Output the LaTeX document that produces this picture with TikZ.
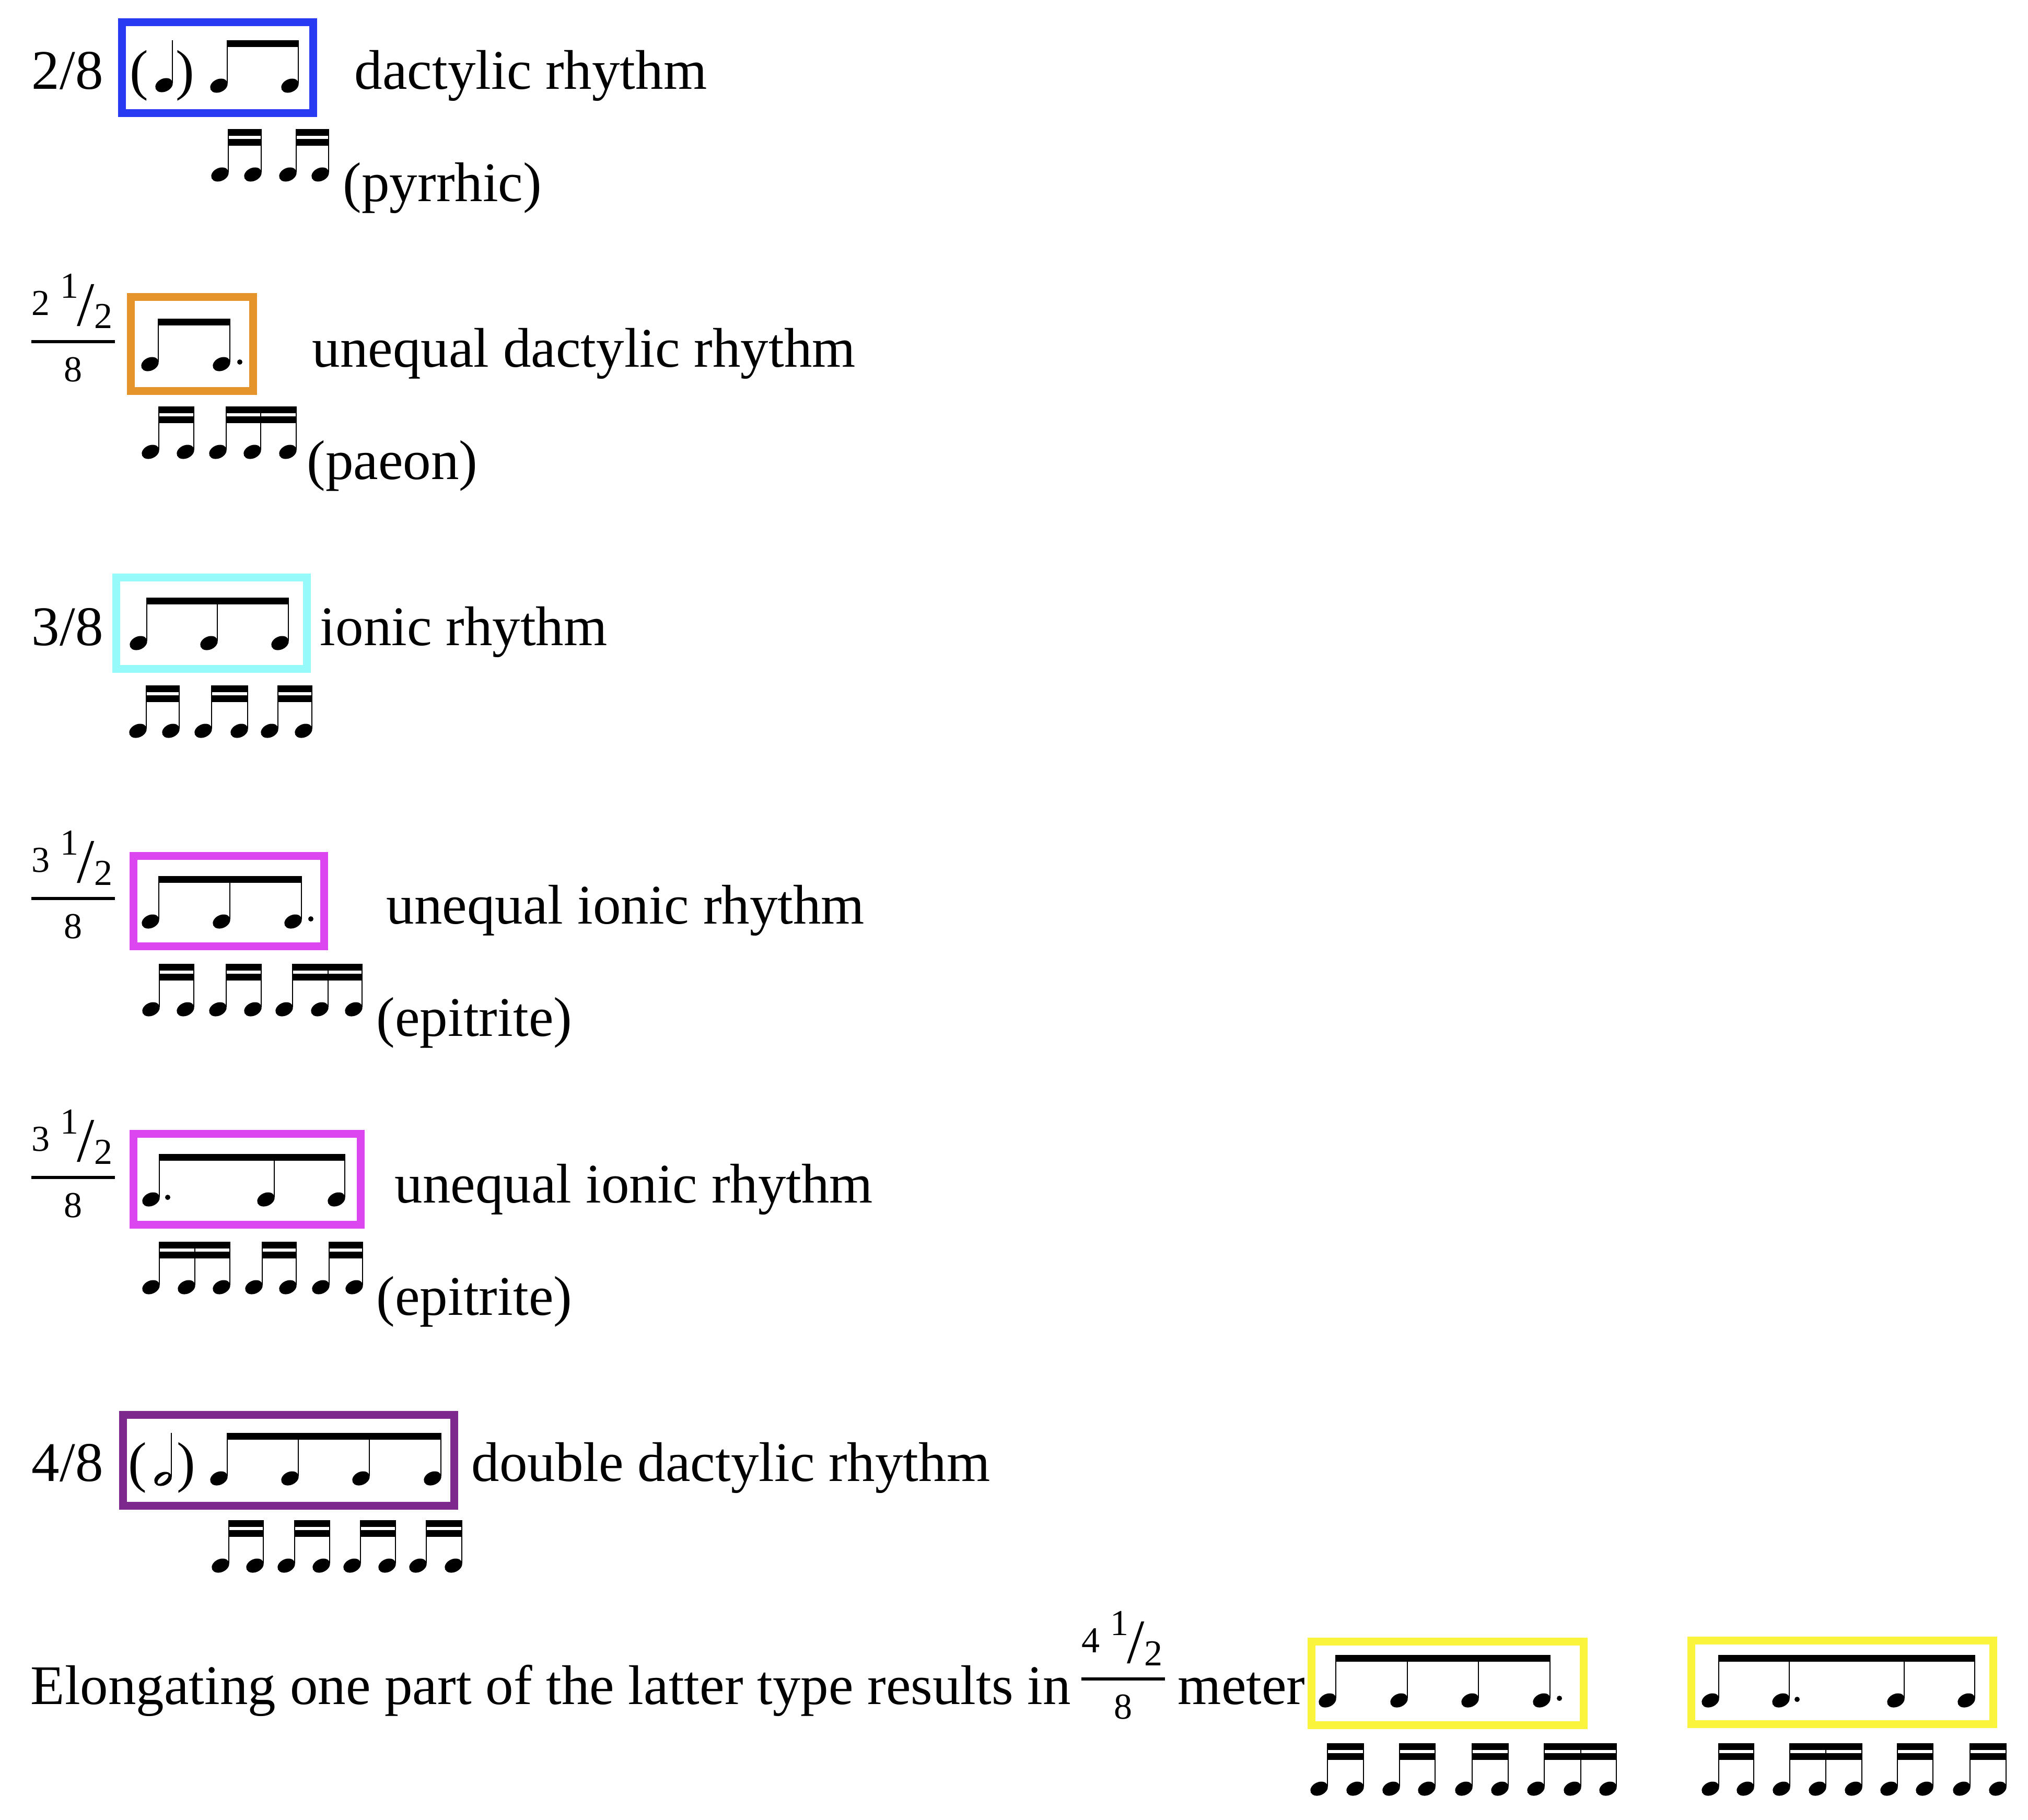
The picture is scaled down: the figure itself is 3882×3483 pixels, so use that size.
\documentclass[tikz,border=0pt]{standalone}
\usepackage{fontspec}
\setmainfont{Liberation Serif}
\definecolor{boxblue}{RGB}{40,58,242}
\definecolor{boxorange}{RGB}{228,148,42}
\definecolor{boxcyan}{RGB}{150,250,250}
\definecolor{boxmagenta}{RGB}{220,70,240}
\definecolor{boxpurple}{RGB}{125,40,140}
\definecolor{boxyellow}{RGB}{250,245,60}
\tikzset{
	txt/.style={font=\fontsize{26.75}{32}\selectfont, inner sep=0pt, anchor=base west},
	frac/.style={font=\fontsize{17.5}{21}\selectfont, inner sep=0pt, anchor=base west},
	slash/.style={font=\fontsize{30}{36}\selectfont, inner sep=0pt, anchor=base west},
	rbox/.style={line width=3.75pt},
	stem/.style={line width=0.65pt}
}
\newcommand{\nhead}[2]{\fill[rotate around={25:(#1,#2)}] (#1,#2) ellipse[x radius=17.5, y radius=12.5];}
\newcommand{\nstem}[3]{\nhead{#1-16}{#2}\draw[stem] (#1,#2-4) -- (#1,#3);}
\newcommand{\nhalf}[3]{%
	\fill[rotate around={25:(#1-16,#2)}] (#1-16,#2) ellipse[x radius=17.5, y radius=12.5];
	\fill[white,rotate around={40:(#1-16,#2)}] (#1-16,#2) ellipse[x radius=13, y radius=5.5];
	\draw[stem] (#1,#2-4) -- (#1,#3);}
\newcommand{\ndot}[2]{\fill (#1,#2) circle[radius=5];}
\newcommand{\eighths}[4]{%
	\fill (#2-1.3,#1) rectangle (#3+1.3,#1+13);
	\foreach \sx in {#4} {\nstem{\sx}{#1+87}{#1}}}
\newcommand{\sixteenths}[4]{%
	\fill (#2-1.3,#1) rectangle (#3+1.3,#1+13);
	\fill (#2-1.3,#1+19) rectangle (#3+1.3,#1+32);
	\foreach \sx in {#4} {\nstem{\sx}{#1+87}{#1}}}
\newcommand{\halfmeter}[4]{%
	\node[frac] (#1n) at (#2,#3-51) {#4};
	\node[frac] (#1o) at (#2+55,#3-84) {1};
	\node[slash] (#1s) at (#2+87,#3-31) {/};
	\node[frac] (#1t) at (#2+120,#3-26) {2};
	\draw[line width=1.5pt] (#2,#3) -- (#2+160,#3);
	\node[frac,anchor=base] (#1d) at (#2+80,#3+76) {8};}

\begin{document}
\begin{tikzpicture}[x=0.25pt,y=-0.25pt]
		\fill[white] (0,0) rectangle (3882,3483);
		% 2/8
		\node[txt] (meter1) at (60,170) {2/8};
		\draw[rbox,draw=boxblue] (233.5,42.5) rectangle (599.5,216.5);
		\node[txt] (po1) at (248,170) {(};
		\nstem{330}{163}{77}
		\node[txt] (pc1) at (336,170) {)};
		\eighths{77}{435}{571}{435,571}
		\node[txt] (name1) at (678,170) {dactylic rhythm};
		\sixteenths{247}{437}{500}{437,500}
		\sixteenths{247}{567}{629}{567,629}
		\node[txt] (foot1) at (656,385) {(pyrrhic)};
		% 2 1/2 / 8
		\halfmeter{m2}{60}{654}{2}
		\draw[rbox,draw=boxorange] (250.5,568.5) rectangle (484.5,748.5);
		\eighths{610}{303}{440}{303,440}
		\ndot{459}{693}
		\node[txt] (name2) at (597,702) {unequal dactylic rhythm};
		\sixteenths{778}{304}{371}{304,371}
		\sixteenths{778}{433}{567}{433,499,567}
		\node[txt] (foot2) at (587,917) {(paeon)};
		% 3/8
		\node[txt] (meter3) at (60,1235) {3/8};
		\draw[rbox,draw=boxcyan] (222,1105) rectangle (587,1280);
		\eighths{1144}{281}{552}{281,416,552}
		\node[txt] (name3) at (612,1235) {ionic rhythm};
		\sixteenths{1312}{280}{343}{280,343}
		\sixteenths{1312}{405}{474}{405,474}
		\sixteenths{1312}{532}{597}{532,597}
		% 3 1/2 / 8
		\halfmeter{m4}{60}{1720}{3}
		\draw[rbox,draw=boxmagenta] (255,1638.5) rectangle (620,1811.5);
		\eighths{1677}{304}{577}{304,440,577}
		\ndot{595}{1759}
		\node[txt] (name4) at (739,1768) {unequal ionic rhythm};
		\sixteenths{1845}{305}{371}{305,371}
		\sixteenths{1845}{433}{500}{433,500}
		\sixteenths{1845}{560}{693}{560,628,693}
		\node[txt] (foot4) at (720,1983) {(epitrite)};
		% 3 1/2 / 8 again
		\halfmeter{m5}{60}{2254}{3}
		\draw[rbox,draw=boxmagenta] (255,2170.5) rectangle (690,2344.5);
		\eighths{2209}{305}{660}{305,525,660}
		\ndot{321}{2292}
		\node[txt] (name5) at (755,2302) {unequal ionic rhythm};
		\sixteenths{2377}{305}{440}{305,373,440}
		\sixteenths{2377}{502}{567}{502,567}
		\sixteenths{2377}{630}{694}{630,694}
		\node[txt] (foot5) at (720,2517) {(epitrite)};
		% 4/8
		\node[txt] (meter6) at (60,2835) {4/8};
		\draw[rbox,draw=boxpurple] (235.5,2708.5) rectangle (869.5,2882.5);
		\node[txt] (po6) at (245,2835) {(};
		\nhalf{328}{2831}{2743}
		\node[txt] (pc6) at (338,2835) {)};
		\eighths{2743}{435}{844}{435,571,707,844}
		\node[txt] (name6) at (902,2835) {double dactylic rhythm};
		\sixteenths{2910}{438}{504}{438,504}
		\sixteenths{2910}{564}{631}{564,631}
		\sixteenths{2910}{690}{757}{690,757}
		\sixteenths{2910}{816}{884}{816,884}
		% 4 1/2 / 8
		\node[txt] (text7) at (58,3262) {Elongating one part of the latter type results in};
		\halfmeter{m7}{2070}{3214}{4}
		\node[txt] (meter7) at (2254,3262) {meter};
		\draw[rbox,draw=boxyellow] (2510,3142.5) rectangle (3031,3302.5);
		\eighths{3168}{2557}{2967}{2557,2694,2830,2967}
		\ndot{2985}{3251}
		\sixteenths{3337}{2541}{2610}{2541,2610}
		\sixteenths{3337}{2679}{2747}{2679,2747}
		\sixteenths{3337}{2818}{2887}{2818,2887}
		\sixteenths{3337}{2956}{3094}{2956,3026,3094}
		\draw[rbox,draw=boxyellow] (3237,3140.5) rectangle (3815,3300.5);
		\eighths{3168}{3290}{3780}{3290,3425,3645,3780}
		\ndot{3440}{3253}
		\sixteenths{3337}{3290}{3357}{3290,3357}
		\sixteenths{3337}{3426}{3564}{3426,3495,3564}
		\sixteenths{3337}{3632}{3700}{3632,3700}
		\sixteenths{3337}{3771}{3840}{3771,3840}
\end{tikzpicture}
\end{document}
